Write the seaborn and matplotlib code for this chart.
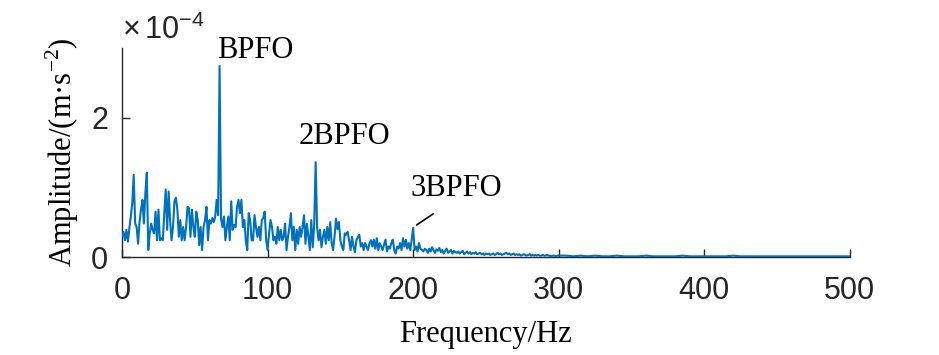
import numpy as np
import pandas as pd
import matplotlib
matplotlib.use("Agg")
import matplotlib.pyplot as plt
import seaborn as sns

# Envelope spectrum amplitude, units of 1e-4 m/s^2
# 1 Hz steps from 0 to 300 Hz
amp_0_300 = [
    0.30, 0.36, 0.24, 0.39, 0.22, 0.41, 0.58, 0.77, 1.18, 0.48,
    0.43, 0.19, 0.50, 0.68, 0.82, 0.48, 0.92, 1.21, 0.10, 0.34,
    0.48, 0.39, 0.34, 0.65, 0.24, 0.68, 0.24, 0.27, 0.24, 0.63,
    0.97, 0.39, 0.94, 0.53, 0.24, 0.43, 0.80, 0.85, 0.68, 0.29,
    0.53, 0.24, 0.43, 0.24, 0.43, 0.72, 0.70, 0.29, 0.68, 0.43,
    0.29, 0.65, 0.53, 0.17, 0.43, 0.10, 0.43, 0.53, 0.72, 0.24,
    0.53, 0.48, 0.56, 0.50, 0.58, 0.82, 0.60, 2.74, 0.55, 0.43,
    0.58, 0.24, 0.43, 0.58, 0.24, 0.80, 0.39, 0.46, 0.43, 0.72,
    0.82, 0.63, 0.82, 0.43, 0.53, 0.24, 0.10, 0.63, 0.53, 0.24,
    0.24, 0.60, 0.43, 0.29, 0.43, 0.24, 0.53, 0.56, 0.65, 0.24,
    0.10, 0.34, 0.53, 0.43, 0.24, 0.29, 0.19, 0.43, 0.24, 0.39,
    0.24, 0.29, 0.48, 0.10, 0.29, 0.43, 0.63, 0.24, 0.43, 0.10,
    0.39, 0.19, 0.43, 0.29, 0.43, 0.60, 0.19, 0.48, 0.29, 0.10,
    0.53, 0.14, 0.45, 1.36, 0.43, 0.24, 0.39, 0.14, 0.29, 0.39,
    0.19, 0.43, 0.24, 0.50, 0.20, 0.10, 0.30, 0.55, 0.40, 0.50,
    0.24, 0.15, 0.10, 0.34, 0.32, 0.36, 0.24, 0.10, 0.29, 0.15,
    0.07, 0.24, 0.29, 0.32, 0.15, 0.20, 0.10, 0.20, 0.15, 0.10,
    0.20, 0.24, 0.15, 0.25, 0.12, 0.27, 0.10, 0.20, 0.15, 0.10,
    0.18, 0.25, 0.08, 0.15, 0.12, 0.20, 0.25, 0.10, 0.05, 0.15,
    0.12, 0.20, 0.10, 0.27, 0.15, 0.25, 0.12, 0.20, 0.10, 0.25,
    0.42, 0.10, 0.15, 0.08, 0.20, 0.12, 0.10, 0.08, 0.12, 0.10,
    0.06, 0.12, 0.08, 0.14, 0.10, 0.06, 0.11, 0.09, 0.13, 0.07,
    0.10, 0.05, 0.09, 0.12, 0.06, 0.08, 0.10, 0.05, 0.09, 0.07,
    0.06, 0.08, 0.05, 0.07, 0.09, 0.04, 0.06, 0.08, 0.05, 0.07,
    0.04, 0.06, 0.05, 0.07, 0.04, 0.05, 0.06, 0.04, 0.05, 0.03,
    0.05, 0.04, 0.05, 0.03, 0.04, 0.05, 0.03, 0.04, 0.06, 0.04,
    0.05, 0.03, 0.04, 0.05, 0.06, 0.04, 0.05, 0.03, 0.04, 0.05,
    0.03, 0.04, 0.03, 0.04, 0.02, 0.03, 0.04, 0.03, 0.02, 0.03,
    0.04, 0.02, 0.03, 0.02, 0.03, 0.02, 0.03, 0.02, 0.02, 0.03,
    0.02, 0.02, 0.03, 0.02, 0.02, 0.01, 0.02, 0.02, 0.01, 0.02,
    0.02,
]
# flat tail, 5 Hz steps from 305 to 500 Hz
amp_tail = [
    0.02, 0.01, 0.02, 0.01, 0.02, 0.01, 0.01, 0.02, 0.01, 0.01,
    0.01, 0.02, 0.01, 0.01, 0.01, 0.01, 0.02, 0.01, 0.01, 0.01,
    0.01, 0.01, 0.01, 0.02, 0.01, 0.01, 0.01, 0.01, 0.01, 0.01,
    0.01, 0.01, 0.01, 0.01, 0.01, 0.01, 0.01, 0.01, 0.01, 0.01,
]
freq = np.concatenate([np.arange(0, 301), np.arange(305, 501, 5)])
amp = np.array(amp_0_300 + amp_tail)

x_ticks = [0, 100, 200, 300, 400, 500]
y_ticks = [0, 2]
peak_labels = ['BPFO', '2BPFO', '3BPFO']

df = pd.DataFrame({'freq': freq, 'amp': amp})

sns.set_style('white')
plt.rcParams['font.family'] = ['Liberation Sans', 'DejaVu Sans']
plt.rcParams['mathtext.fontset'] = 'custom'
plt.rcParams['mathtext.rm'] = 'Liberation Serif'
plt.rcParams['mathtext.sf'] = 'Liberation Sans'

dark = '#262626'
serif = ['Liberation Serif', 'DejaVu Serif']

fig = plt.figure(figsize=(9.39, 3.55), dpi=100)
ax = fig.add_axes([0.130, 0.276, 0.775, 0.589])

sns.lineplot(data=df, x='freq', y='amp', ax=ax, color='#0072BD', lw=1.5)

ax.set_xlim(0, 500)
ax.set_ylim(0, 3)
ax.set_xticks(x_ticks)
ax.set_yticks(y_ticks)
ax.tick_params(bottom=True, left=True, direction='in', length=6, width=1,
               colors=dark, labelsize=22)
ax.tick_params(axis='x', pad=14)
ax.tick_params(axis='y', pad=10)
for side in ['top', 'right']:
    ax.spines[side].set_visible(False)
for side in ['left', 'bottom']:
    ax.spines[side].set_color(dark)
    ax.spines[side].set_linewidth(1)
    ax.spines[side].set_zorder(0)

ax.set_xlabel('Frequency/Hz', family=serif, fontsize=22, color='black')
ax.set_ylabel('Amplitude/(m\u00b7s$^{-2}$)', family=serif, fontsize=22, color='black')
ax.xaxis.set_label_coords(0.5, -0.30)
ax.yaxis.set_label_coords(-0.057, 0.5)

# exponent label like MATLAB
ax.text(0.0, 1.01, r'$\mathsf{\times\,10^{-4}}$', transform=ax.transAxes,
        fontsize=22, color=dark, ha='left', va='bottom')

# peak annotations
ax.text(65, 2.86, peak_labels[0], family=serif, fontsize=22, color='black',
        ha='left', va='baseline')
ax.text(121, 1.62, peak_labels[1], family=serif, fontsize=22, color='black',
        ha='left', va='baseline')
ax.text(198, 0.87, peak_labels[2], family=serif, fontsize=22, color='black',
        ha='left', va='baseline')
ax.plot([202.4, 213.8], [0.46, 0.62], color='black', lw=1.2)

fig.savefig('out.png', dpi=100)
